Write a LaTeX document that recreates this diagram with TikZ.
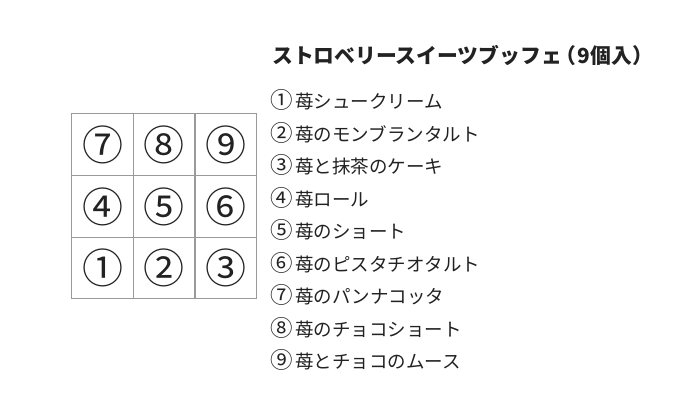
\documentclass[tikz,border=0pt]{standalone}
\usepackage{fontspec}
\setmainfont{Noto Sans CJK JP}
\definecolor{ink}{HTML}{222222}
\definecolor{gridc}{HTML}{9A9A9A}
\newcommand{\cnum}[1]{{\fontsize{22.5}{22.5}\selectfont #1}\hspace{2.5pt}}
\begin{document}
\begin{tikzpicture}[x=1pt,y=-1pt,
  cell/.style={draw=gridc,line width=0.9pt,minimum width=61.5pt,minimum height=61.7pt,inner sep=0pt,font=\fontsize{41}{41}\selectfont,text=ink},
  item/.style={anchor=west,inner sep=0pt,font=\fontsize{18.5}{18.5}\selectfont,text=ink},
  ttl/.style={anchor=west,inner sep=0pt,font=\fontsize{20.8}{20.8}\selectfont\bfseries,text=ink}]
\useasboundingbox[fill=white] (0,0) rectangle (700,413);
% grid
\node[cell] (c7) at (102.5,144.5) {⑦};
\node[cell] (c8) at (164.2,144.5) {⑧};
\node[cell] (c9) at (225.6,144.5) {⑨};
\node[cell] (c4) at (102.5,206.5) {④};
\node[cell] (c5) at (164.2,206.5) {⑤};
\node[cell] (c6) at (225.6,206.5) {⑥};
\node[cell] (c1) at (102.5,268.0) {①};
\node[cell] (c2) at (164.2,268.0) {②};
\node[cell] (c3) at (225.6,268.0) {③};
% title
\node[ttl] (title) at (272,55) {ストロベリースイーツブッフェ\hspace{-6pt}（\hspace{1pt}9個入）};
% list
\node[item] (i1) at (270,100.0) {\cnum{①}苺シュークリーム};
\node[item] (i2) at (270,132.5) {\cnum{②}苺のモンブランタルト};
\node[item] (i3) at (270,165.0) {\cnum{③}苺と抹茶のケーキ};
\node[item] (i4) at (270,197.5) {\cnum{④}苺ロール};
\node[item] (i5) at (270,230.0) {\cnum{⑤}苺のショート};
\node[item] (i6) at (270,262.5) {\cnum{⑥}苺のピスタチオタルト};
\node[item] (i7) at (270,295.0) {\cnum{⑦}苺のパンナコッタ};
\node[item] (i8) at (270,327.5) {\cnum{⑧}苺のチョコショート};
\node[item] (i9) at (270,360.0) {\cnum{⑨}苺とチョコのムース};
\end{tikzpicture}
\end{document}
